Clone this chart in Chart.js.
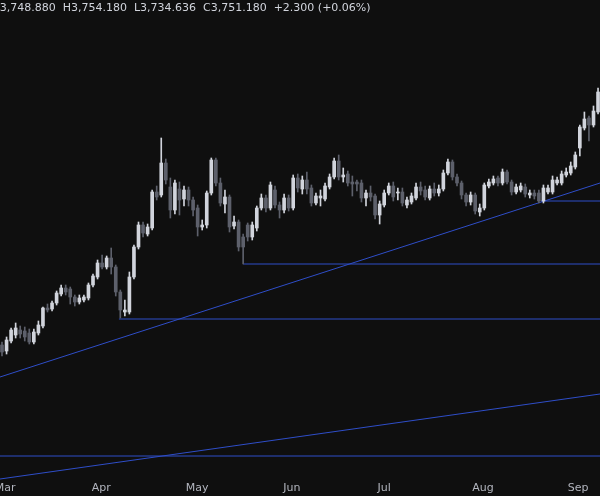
<!DOCTYPE html>
<html>
<head>
<meta charset="utf-8">
<script src="https://cdn.jsdelivr.net/npm/chart.js@4"></script>
<style>
  html, body { margin: 0; padding: 0; background: #0f0f0f; }
  #wrap { position: relative; width: 600px; height: 496px; overflow: hidden; }
  #legend {
    position: absolute; left: -9px; top: 1px; color: #d1d4dc;
    font: 11px "DejaVu Sans", sans-serif; white-space: pre;
  }
</style>
</head>
<body>
<div id="wrap">
  <canvas id="chart" width="600" height="496"></canvas>
  <div id="legend">O3,748.880  H3,754.180  L3,734.636  C3,751.180  +2.300 (+0.06%)</div>
</div>
<script>
// daily candles
const opens = [3501,3495,3505,3511,3516,3515,3513,3504,3513,3520,3538,3537,3543,3552,3558,3557,3549,3544,3546,3548,
  3561,3569,3583,3579,3588,3579,3554,3534,3534,3569,3599,3621,3612,3618,3654,3651,3683,3659,3636,3657,
  3647,3656,3646,3638,3619,3621,3653,3686,3663,3642,3649,3620,3624,3609,3621,3609,3618,3638,3648,3638,
  3656,3641,3636,3648,3638,3668,3657,3666,3658,3643,3648,3647,3659,3669,3685,3669,3672,3664,3664,3663,
  3648,3653,3650,3631,3641,3653,3660,3653,3654,3641,3644,3648,3659,3656,3648,3657,3653,3657,3673,3684,
  3669,3663,3651,3644,3651,3634,3638,3660,3663,3668,3663,3674,3664,3654,3656,3659,3651,3653,3653,3645,
  3654,3654,3663,3663,3671,3673,3679,3698,3718,3728,3721,3734];
const highs = [3504,3509,3518,3523,3520,3519,3517,3517,3525,3539,3542,3545,3555,3561,3561,3559,3551,3551,3551,3563,
  3572,3586,3591,3590,3598,3581,3556,3546,3574,3601,3624,3624,3622,3656,3660,3708,3687,3668,3666,3664,
  3660,3659,3649,3641,3626,3655,3688,3688,3668,3656,3651,3630,3626,3612,3623,3624,3640,3652,3651,3664,
  3660,3644,3652,3651,3671,3672,3670,3674,3661,3653,3656,3663,3672,3688,3691,3678,3675,3670,3666,3666,
  3656,3660,3652,3645,3656,3663,3664,3658,3658,3649,3653,3663,3664,3660,3660,3663,3661,3676,3687,3686,
  3672,3665,3653,3654,3653,3642,3663,3667,3670,3670,3677,3676,3666,3662,3663,3662,3656,3656,3656,3661,
  3661,3670,3669,3675,3678,3684,3694,3721,3734,3730,3740,3758];
const lows = [3490,3492,3503,3508,3508,3505,3502,3502,3511,3518,3534,3535,3541,3550,3551,3542,3540,3542,3544,3546,
  3559,3567,3577,3577,3572,3550,3528,3530,3532,3567,3597,3609,3610,3616,3646,3649,3662,3628,3632,3631,
  3640,3640,3630,3610,3616,3618,3651,3660,3640,3633,3614,3617,3595,3582,3605,3606,3615,3636,3634,3636,
  3638,3628,3633,3635,3636,3654,3652,3652,3640,3641,3640,3645,3657,3667,3666,3664,3660,3650,3655,3644,
  3640,3645,3627,3622,3639,3651,3645,3646,3640,3638,3642,3646,3651,3646,3646,3650,3650,3655,3671,3666,
  3660,3647,3640,3641,3632,3630,3636,3658,3661,3660,3661,3662,3651,3652,3654,3649,3648,3647,3643,3643,
  3652,3652,3661,3661,3669,3671,3677,3690,3716,3705,3719,3732];
const closes = [3494,3506,3516,3518,3512,3509,3504,3514,3521,3538,3536,3543,3553,3558,3554,3549,3544,3548,3549,3561,
  3570,3583,3579,3588,3579,3554,3536,3536,3569,3599,3621,3613,3619,3654,3649,3683,3666,3636,3663,3646,
  3656,3646,3636,3619,3621,3653,3686,3663,3643,3649,3619,3624,3599,3599,3609,3621,3638,3648,3638,3661,
  3641,3636,3648,3638,3668,3658,3666,3657,3643,3650,3650,3660,3669,3685,3669,3671,3663,3662,3662,3648,
  3653,3649,3631,3642,3653,3660,3649,3654,3643,3646,3650,3659,3655,3649,3657,3653,3657,3673,3684,3669,
  3663,3651,3644,3651,3635,3638,3661,3664,3667,3663,3674,3664,3654,3659,3660,3652,3653,3650,3645,3658,
  3658,3666,3666,3672,3674,3680,3691,3719,3727,3721,3735,3754];

// month labels at candle index positions
const monthLabels = ["Mar", "Apr", "May", "Jun", "Jul", "Aug", "Sep"];
const monthIndex = [0.7, 21.8, 42.9, 63.7, 84, 105.7, 126.6];

// support levels: start index and price
const levelStarts = [118.5, 53, 25.7, -1];
const levelPrices = [3645, 3582, 3527, 3390];
// trend lines: [x0, y0, x1, y1]
const trend1 = [-0.44, 3469, 131.43, 3663];
const trend2 = [-0.44, 3367, 131.43, 3452];

const UP = "#d1d4dc";
const DOWN = "#5d606b";
const LINE = "#2f4ec9";
const xMin = -0.44, xMax = 131.43;

const idx = opens.map((_, i) => i);
const colors = idx.map(i => closes[i] >= opens[i] ? UP : DOWN);

const datasets = [
  {
    type: "bar",
    data: idx.map(i => ({ x: i, y: [lows[i], highs[i]] })),
    backgroundColor: colors,
    barThickness: 1,
    grouped: false,
    order: 2
  },
  {
    type: "bar",
    data: idx.map(i => {
      let a = Math.min(opens[i], closes[i]), b = Math.max(opens[i], closes[i]);
      if (b - a < 1) b = a + 1;
      return { x: i, y: [a, b] };
    }),
    backgroundColor: colors,
    barThickness: 3,
    grouped: false,
    order: 1
  }
];

levelStarts.forEach((s, k) => {
  datasets.push({
    type: "line",
    data: [{ x: s, y: levelPrices[k] }, { x: xMax + 1, y: levelPrices[k] }],
    borderColor: LINE, borderWidth: 1, pointRadius: 0, order: 3
  });
});
[trend1, trend2].forEach(t => {
  datasets.push({
    type: "line",
    data: [{ x: t[0], y: t[1] }, { x: t[2], y: t[3] }],
    borderColor: LINE, borderWidth: 1, pointRadius: 0, order: 3
  });
});

// month names drawn under the candles
const monthPlugin = {
  id: "months",
  afterDraw(chart) {
    const ctx = chart.ctx;
    const xs = chart.scales.x;
    ctx.save();
    ctx.fillStyle = "#b2b5be";
    ctx.font = "11px 'DejaVu Sans'";
    ctx.textAlign = "center";
    ctx.textBaseline = "middle";
    monthIndex.forEach((v, i) => ctx.fillText(monthLabels[i], xs.getPixelForValue(v), 488));
    ctx.restore();
  }
};

new Chart(document.getElementById("chart"), {
  data: { datasets: datasets },
  plugins: [monthPlugin],
  options: {
    responsive: false,
    animation: false,
    layout: { padding: 0 },
    plugins: { legend: { display: false }, tooltip: { enabled: false } },
    scales: {
      x: { type: "linear", display: false, min: xMin, max: xMax, offset: false },
      y: { display: false, min: 3350, max: 3846 }
    }
  }
});
</script>
</body>
</html>
